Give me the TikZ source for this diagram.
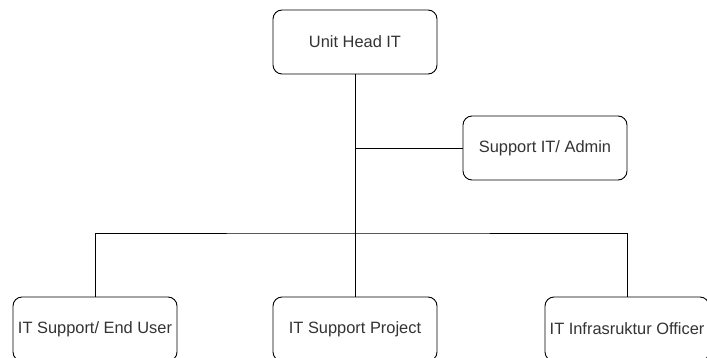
\documentclass[tikz,border=0pt]{standalone}
\usepackage{fontspec}
\setmainfont{Liberation Sans}
\begin{document}
\begin{tikzpicture}[x=1pt,y=-1pt,
  orgbox/.style={draw=black, line width=0.9pt, rounded corners=9pt, fill=white,
    minimum width=164pt, minimum height=64pt, inner sep=0pt,
    font=\fontsize{16.4}{19}\selectfont, text=black!80},
  link/.style={draw=black, line width=0.9pt}]
  \useasboundingbox (0,0) rectangle (707,358);

  % boxes
  \node[orgbox] (head)    at (355,42)  {Unit Head IT};
  \node[orgbox] (admin)   at (545,148) {Support IT/ Admin};
  \node[orgbox] (enduser) at (95,329)  {IT Support/ End User};
  \node[orgbox] (project) at (355,329) {IT Support Project};
  \node[orgbox] (officer) at (627,329) {IT Infrasruktur Officer};

  \coordinate (bus) at (355,233);

  % connectors
  \draw[link] (head.south) -- (project.north);
  \draw[link] (head.south |- admin.west) -- (admin.west);
  \draw[link] (enduser.north) |- (bus) -| (officer.north);
\end{tikzpicture}
\end{document}
